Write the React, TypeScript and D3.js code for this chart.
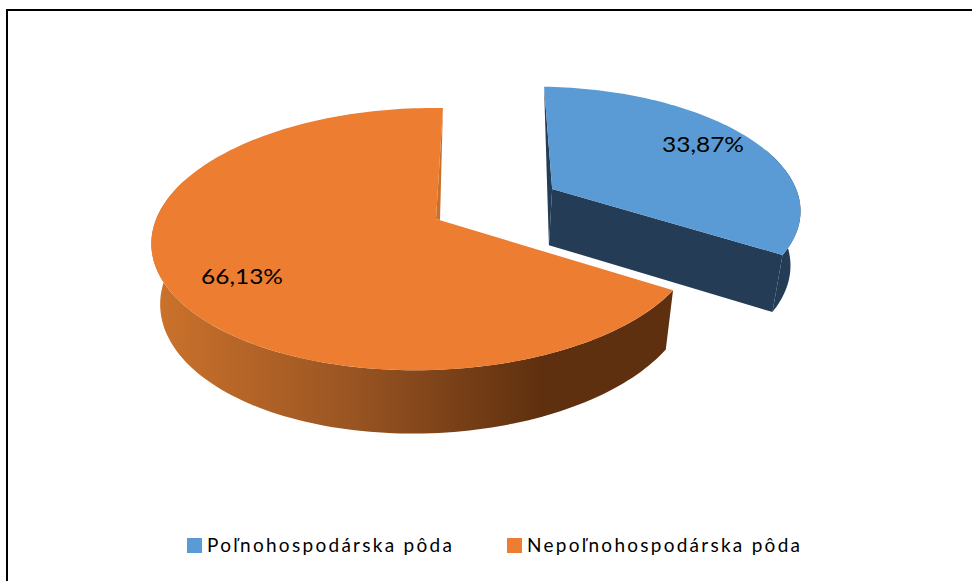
import React from "react";
import * as d3 from "d3";

const categories = ["Poľnohospodárska pôda", "Nepoľnohospodárska pôda"];
const shares = [33.87, 66.13];
const valueLabels = ["33,87%", "66,13%"];
const topColors = ["#5B9BD5", "#ED7D31"];
const WIDTH = 972;
const HEIGHT = 581;

// perspective projection of the flat pie disc: u right, v towards viewer, z down
const view = { cx: 436, cy: 219, rx: 270, ry: 128, k: 0.153, j: 0.035, skew: -8, drop: 60, far: 0.03 };
const explodeDist = 0.51;

function project(u: number, v: number, z: number): [number, number] {
  const w = 1 - view.k * v + view.j * u + view.far * z;
  return [
    view.cx + (view.rx * u + view.skew * v) / w,
    view.cy + (view.ry * v + view.drop * z) / w,
  ];
}

const pieLayout = d3.pie<number>().sort(null).value((d) => d);
const arcs = pieLayout(shares);
const line = d3.line();

function rimPoint(theta: number, ox: number, oy: number, z: number) {
  return project(ox + Math.sin(theta), oy - Math.cos(theta), z);
}
function rim(a: number, b: number, ox: number, oy: number, z: number) {
  const n = Math.max(2, Math.ceil(Math.abs(b - a) * 40));
  return d3.range(n + 1).map((i) => rimPoint(a + ((b - a) * i) / n, ox, oy, z));
}

function Slice({ index }: { index: number }) {
  const arc = arcs[index];
  const isBlue = index === 0;
  const mid = (arc.startAngle + arc.endAngle) / 2;
  const ox = isBlue ? explodeDist * Math.sin(mid) : 0;
  const oy = isBlue ? -explodeDist * Math.cos(mid) : 0;
  const apexTop = project(ox, oy, 0);
  const apexBottom = project(ox, oy, 1);
  const top = [apexTop, ...rim(arc.startAngle, arc.endAngle, ox, oy, 0)];
  const wallFrom = isBlue ? arc.startAngle + 1.2 : arc.startAngle;
  const wallTo = isBlue ? arc.endAngle : Math.PI * 1.6;
  const wall = [
    ...rim(wallFrom, wallTo, ox, oy, 0),
    ...rim(wallFrom, wallTo, ox, oy, 1).reverse(),
  ];
  const startTop = rimPoint(arc.startAngle, ox, oy, 0);
  const endTop = rimPoint(arc.endAngle, ox, oy, 0);
  const endBottom = rimPoint(arc.endAngle, ox, oy, 1);
  return (
    <g>
      <path d={line(wall) + "Z"} fill={isBlue ? "#243C55" : "url(#orangeSide)"} />
      {isBlue && (
        <>
          <path d={line([apexTop, endTop, endBottom, apexBottom]) + "Z"} fill="#243C55" />
          <path d={line([startTop, apexBottom, apexTop]) + "Z"} fill="#243C55" />
        </>
      )}
      {!isBlue && (
        <path
          d={line([endTop, [apexTop[0] + 4, apexTop[1] + 1], apexTop]) + "Z"}
          fill="#C9702B"
        />
      )}
      <path d={line(top) + "Z"} fill={topColors[index]} />
    </g>
  );
}

const labelFont = "Lato, 'Open Sans', sans-serif";

export default function App() {
  const legendX = d3.scaleOrdinal<number, number>().domain([0, 1]).range([187, 507]);
  const legendLen = [245, 273];
  const labelPos: [number, number][] = [[703, 152], [242, 284]];
  return (
    <svg
      width={WIDTH}
      height={HEIGHT}
      viewBox={`0 0 ${WIDTH} ${HEIGHT}`}
      style={{ position: "absolute", left: 0, top: 0, background: "#fff" }}
    >
      <defs>
        <linearGradient id="orangeSide" gradientUnits="userSpaceOnUse" x1={158} x2={540} y1={0} y2={0}>
          <stop offset="0" stopColor="#CB722C" />
          <stop offset="0.5" stopColor="#9A5522" />
          <stop offset="1" stopColor="#5F300F" />
        </linearGradient>
      </defs>
      <path d={`M7 ${HEIGHT}V10H${WIDTH}`} fill="none" stroke="#000" strokeWidth={2} />
      <Slice index={1} />
      <Slice index={0} />
      {valueLabels.map((t, i) => (
        <text
          key={t}
          x={labelPos[i][0]}
          y={labelPos[i][1]}
          textAnchor="middle"
          fontFamily={labelFont}
          fontSize={22}
          textLength={82}
          lengthAdjust="spacingAndGlyphs"
          fill="#000"
        >
          {t}
        </text>
      ))}
      {categories.map((c, i) => (
        <g key={c}>
          <rect x={legendX(i)} y={538} width={15} height={15} fill={topColors[i]} />
          <text
            x={legendX(i) + 20}
            y={552}
            fontFamily={labelFont}
            fontSize={19}
            textLength={legendLen[i]}
            lengthAdjust="spacing"
            fill="#000"
          >
            {c}
          </text>
        </g>
      ))}
    </svg>
  );
}
